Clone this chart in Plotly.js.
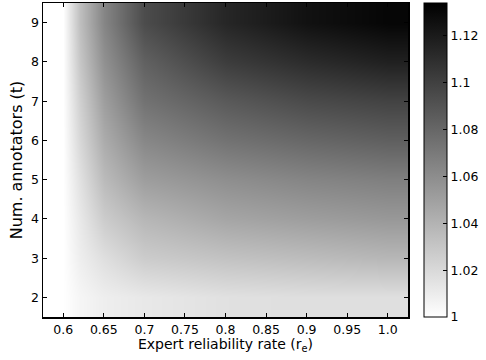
<!DOCTYPE html>
<html>
<head>
<meta charset="utf-8">
<script src="https://cdn.plot.ly/plotly-3.0.1.min.js"></script>
<style>html,body{margin:0;padding:0;background:#fff;}#chart{width:486px;height:360px;}</style>
</head>
<body>
<div id="chart"></div>
<script>
// Expert reliability rate (x) sample columns
const reliability = [0.575, 0.60, 0.62, 0.65, 0.70, 0.80, 0.90, 1.00, 1.025];
// Number of annotators (y) rows
const annotators = [2, 3, 4, 5, 6, 7, 8, 9];
// Estimated values per row (one row per annotator count)
const row_t2 = [1.000, 1.000, 1.005, 1.009, 1.012, 1.016, 1.017, 1.017, 1.017];
const row_t3 = [1.000, 1.000, 1.009, 1.017, 1.027, 1.032, 1.035, 1.038, 1.038];
const row_t4 = [1.000, 1.000, 1.012, 1.027, 1.038, 1.047, 1.051, 1.054, 1.054];
const row_t5 = [1.000, 1.000, 1.016, 1.036, 1.051, 1.059, 1.064, 1.067, 1.067];
const row_t6 = [1.000, 1.000, 1.021, 1.044, 1.063, 1.074, 1.080, 1.084, 1.084];
const row_t7 = [1.000, 1.000, 1.025, 1.051, 1.074, 1.087, 1.095, 1.099, 1.099];
const row_t8 = [1.000, 1.000, 1.030, 1.058, 1.083, 1.102, 1.111, 1.117, 1.117];
const row_t9 = [1.000, 1.000, 1.034, 1.064, 1.094, 1.114, 1.125, 1.131, 1.131];
const xTickVals = [0.6, 0.65, 0.7, 0.75, 0.8, 0.85, 0.9, 0.95, 1.0];
const xTickText = ["0.6", "0.65", "0.7", "0.75", "0.8", "0.85", "0.9", "0.95", "1.0"];
const yTickVals = [2, 3, 4, 5, 6, 7, 8, 9];
const cbTickVals = [1, 1.02, 1.04, 1.06, 1.08, 1.1, 1.12];
const cbTickText = ["1", "1.02", "1.04", "1.06", "1.08", "1.1", "1.12"];

const z = [row_t2, row_t3, row_t4, row_t5, row_t6, row_t7, row_t8, row_t9];
const tickFont = {family: "DejaVu Sans, sans-serif", size: 12.5, color: "#000"};
const xTitleFont = {family: "DejaVu Sans, sans-serif", size: 14, color: "#000"};
const yTitleFont = {family: "DejaVu Sans, sans-serif", size: 16, color: "#000"};

const trace = {
  type: "heatmap",
  x: reliability,
  y: annotators,
  z: z,
  zsmooth: "best",
  zmin: 1,
  zmax: 1.134,
  colorscale: [[0, "#ffffff"], [1, "#000000"]],
  hoverinfo: "none",
  colorbar: {
    x: 1.043, xanchor: "left", xref: "paper",
    y: 0.5, yanchor: "middle", len: 1, lenmode: "fraction",
    thickness: 23, thicknessmode: "pixels",
    outlinewidth: 1, outlinecolor: "#000",
    tickmode: "array", tickvals: cbTickVals, ticktext: cbTickText,
    ticks: "inside", ticklen: 4, tickcolor: "#000",
    tickfont: tickFont, xpad: 0, ypad: 0
  }
};

const layout = {
  width: 486, height: 360,
  margin: {l: 43, r: 69, t: 3, b: 43},
  paper_bgcolor: "#fff", plot_bgcolor: "#fff",
  font: tickFont,
  xaxis: {
    range: [0.575, 1.025],
    tickmode: "array", tickvals: xTickVals, ticktext: xTickText,
    ticks: "inside", ticklen: 4, tickcolor: "#000", tickfont: tickFont,
    showline: true, linecolor: "#000", linewidth: 1.5, mirror: "ticks",
    showgrid: false, zeroline: false,
    title: {text: "Expert reliability rate (r<sub>e</sub>)", font: xTitleFont, standoff: 1}
  },
  yaxis: {
    range: [1.5, 9.5],
    tickmode: "array", tickvals: yTickVals,
    ticks: "inside", ticklen: 4, tickcolor: "#000", tickfont: tickFont,
    showline: true, linecolor: "#000", linewidth: 1.5, mirror: "ticks",
    showgrid: false, zeroline: false,
    title: {text: "Num. annotators (t)", font: yTitleFont, standoff: 4}
  }
};

Plotly.newPlot("chart", [trace], layout, {displayModeBar: false, staticPlot: true});
</script>
</body>
</html>
